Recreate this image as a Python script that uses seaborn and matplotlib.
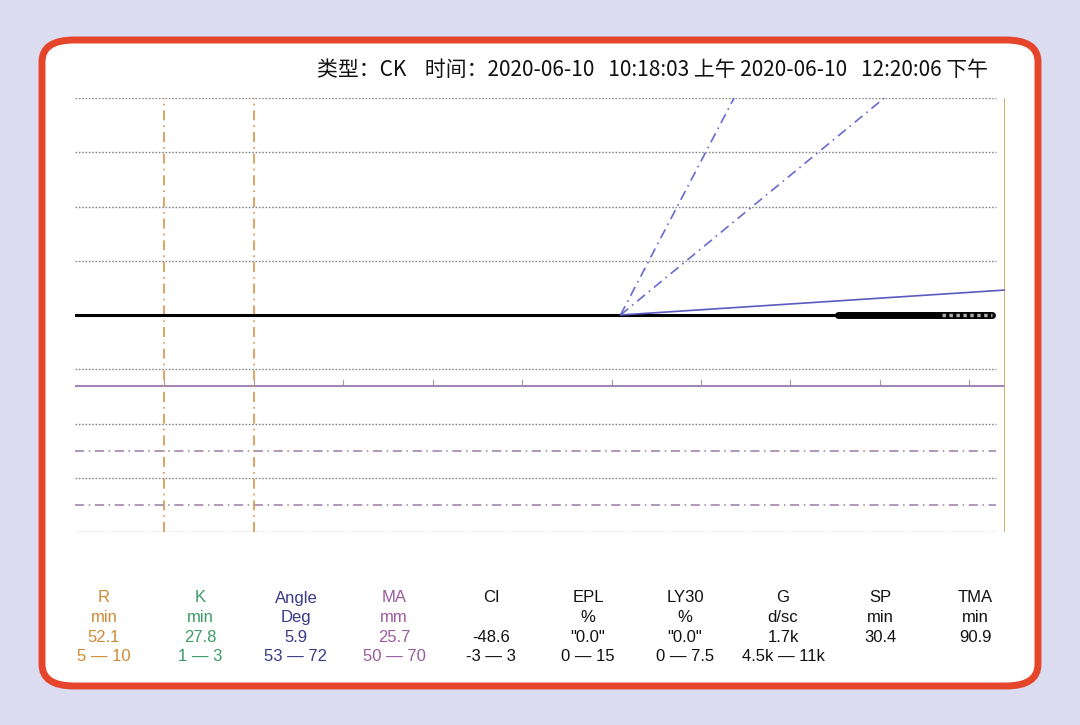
import matplotlib
matplotlib.use("Agg")
import matplotlib.pyplot as plt
from matplotlib.patches import FancyBboxPatch
import seaborn as sns
import numpy as np

sns.set_style("white")
plt.rcParams['font.family'] = ['Noto Sans CJK SC', 'DejaVu Sans']

# data (minutes / mm)
grid_y = [40, 30, 20, 10, -10, -20, -30, -40]
purple_solid_y = -13
purple_dash_y = [-25, -35]
tick_x = [10, 20, 30, 40, 50, 60, 70, 80, 90, 100]
r_time, k_time = 10, 20
split_time = 61
blue_dash_ends = [(73.7, 40), (90.5, 40)]
blue_solid_end = (104, 4.6)
trace_x = [0, 102.5]
thick_x = [85.3, 102.5]
hatch_x = [97, 102.5]

headers = ["R", "K", "Angle", "MA", "CI", "EPL", "LY30", "G", "SP", "TMA"]
units = ["min", "min", "Deg", "mm", "", "%", "%", "d/sc", "min", "min"]
values = ["52.1", "27.8", "5.9", "25.7", "-48.6", '"0.0"', '"0.0"', "1.7k", "30.4", "90.9"]
ranges = ["5 — 10", "1 — 3", "53 — 72", "50 — 70", "-3 — 3", "0 — 15", "0 — 7.5", "4.5k — 11k", "", ""]
colors = ["#d08a35", "#3a9a68", "#3a3a88", "#9a5a9e"] + ["#111111"] * 6
title = "类型：CK    时间：2020-06-10   10:18:03 上午 2020-06-10   12:20:06 下午"

fig = plt.figure(figsize=(10.8, 7.25), dpi=100)
fig.patch.set_facecolor("#dcdcf0")
box = FancyBboxPatch((42/1080, 1-686/725), 996/1080, 646/725,
                     boxstyle="round,pad=0,rounding_size=0.03", transform=fig.transFigure,
                     facecolor="white", edgecolor="#e5452b", linewidth=5, zorder=-5)
fig.patches.append(box)

# axes mapping: x 0..104 -> px 75..1005 ; y 40..-40 -> px 98..532
ax = fig.add_axes([75/1080, 1-532/725, 930/1080, 434/725])
ax.set_zorder(2)
ax.axis("off")
ax.patch.set_alpha(0)

for g in grid_y:
    ax.axhline(g, xmin=0, xmax=0.99, color="#888888", lw=1, ls=(0, (1.2, 1.2)))
ax.axhline(purple_solid_y, color="#9a7ab0", lw=1.3)
for g in purple_dash_y:
    ax.axhline(g, xmax=0.99, color="#9a7aa8", lw=1.1, ls=(0, (6, 3, 1, 3)))
for t in tick_x:
    ax.plot([t, t], [purple_solid_y, purple_solid_y + 1], color="#999999", lw=0.8)
for t in [r_time, k_time]:
    ax.axvline(t, color="#d9954a", lw=1.2, ls=(0, (6, 3, 1, 3)))
ax.axvline(104, color="#d9a060", lw=1.3)

sns.lineplot(x=trace_x, y=[0, 0], ax=ax, color="black", lw=2.2)
sns.lineplot(x=thick_x, y=[0, 0], ax=ax, color="black", lw=5)
sns.lineplot(x=hatch_x, y=[0, 0], ax=ax, color="#aaaaaa", lw=2.5, ls=(0, (1, 1)))
for ex, ey in blue_dash_ends:
    sns.lineplot(x=[split_time, ex], y=[0, ey], ax=ax, color="#6a6ad0", lw=1.2,
                 ls=(0, (6, 3, 1, 3)))
sns.lineplot(x=[split_time, blue_solid_end[0]], y=[0, blue_solid_end[1]], ax=ax,
             color="#5a5ac0", lw=1.2)
ax.set_xlim(0, 104)
ax.set_ylim(-40, 40)

fig.text(988/1080, 1-70/725, title, ha="right", va="center", fontsize=15, color="#111111")

col_x = [104, 200, 296, 394, 491, 588, 685, 783, 880, 975]
for i in range(10):
    for j, row in enumerate([headers, units, values, ranges]):
        c = colors[i] if (j < 3 or i < 4) else "#111111"
        fig.text(col_x[i]/1080, 1-(598+19.5*j)/725, row[i], ha="center", va="center",
                 fontsize=12, color=c, family=["Liberation Sans", "DejaVu Sans"])

fig.savefig("out.png", dpi=100)
